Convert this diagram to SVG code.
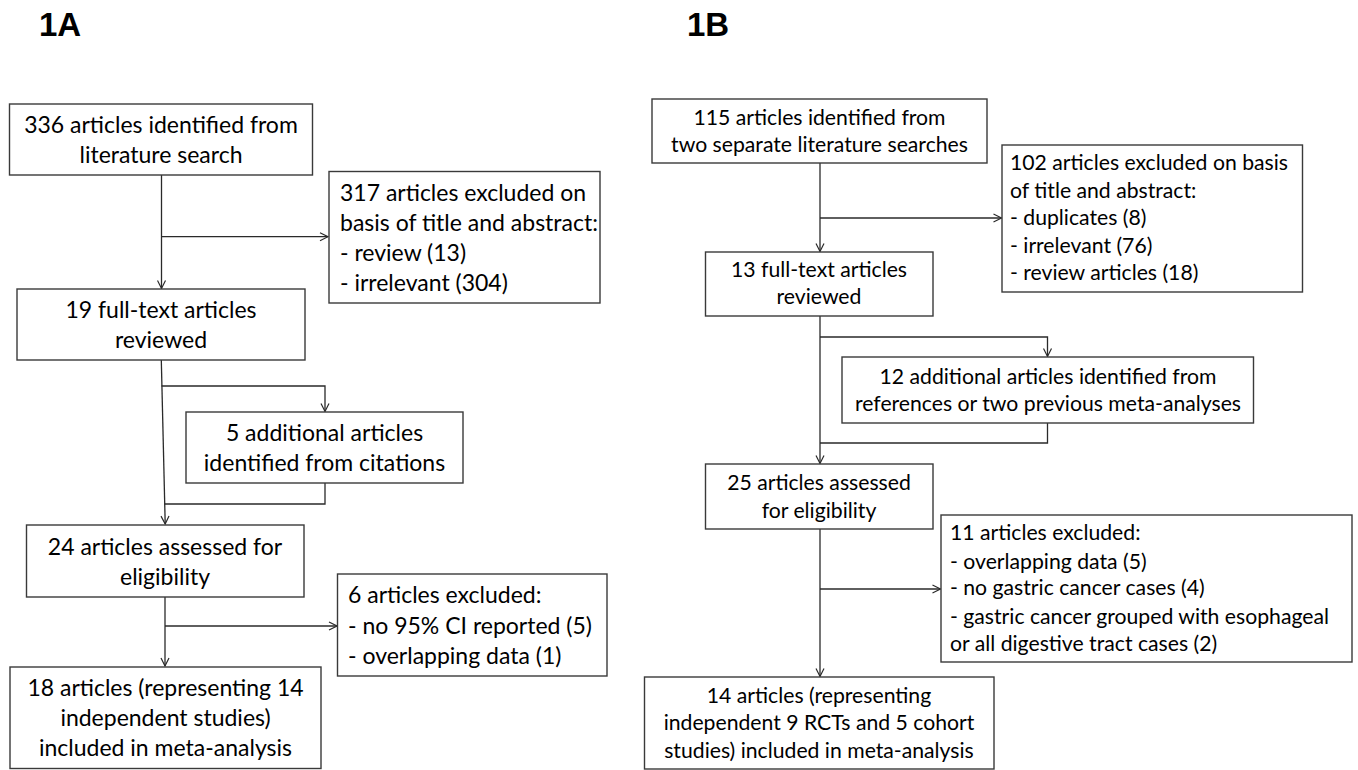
<svg xmlns="http://www.w3.org/2000/svg" width="1358" height="770" viewBox="0 0 1358 770">
<style>
.box{fill:#fff;stroke:#3a3a3a;stroke-width:1.4}
.ln{fill:none;stroke:#2a2a2a;stroke-width:1.3}
text{font-family:Lato,"Liberation Sans",sans-serif;fill:#000}
.l{font-size:23px}
.r{font-size:21.2px}
.c{text-anchor:middle}
.t{font-family:"Liberation Sans",Arial,sans-serif;font-weight:bold;font-size:33px}
</style>
<defs>
<marker id="a" markerWidth="10" markerHeight="10" refX="9" refY="5" orient="auto" markerUnits="userSpaceOnUse">
<path d="M1,1 L9,5 L1,9" fill="none" stroke="#2a2a2a" stroke-width="1.2"/>
</marker>
</defs>
<rect width="1358" height="770" fill="#fff"/>
<text class="t" x="39" y="36">1A</text>
<text class="t" x="687" y="36">1B</text>
<g id="connectors">
<path class="ln" d="M161.5,175 V288.5" marker-end="url(#a)"/>
<path class="ln" d="M161.5,236.7 H328" marker-end="url(#a)"/>
<path class="ln" d="M161.3,360 L165.2,524" marker-end="url(#a)"/>
<path class="ln" d="M161.5,386 H325 V411.5" marker-end="url(#a)"/>
<path class="ln" d="M325,483 V504 H164.5"/>
<path class="ln" d="M165,597 V666" marker-end="url(#a)"/>
<path class="ln" d="M165,626 H337" marker-end="url(#a)"/>
<path class="ln" d="M820,163 V251.5" marker-end="url(#a)"/>
<path class="ln" d="M820,218 H1001.5" marker-end="url(#a)"/>
<path class="ln" d="M820,316 V463.5" marker-end="url(#a)"/>
<path class="ln" d="M820,337 H1047.5 V356.5" marker-end="url(#a)"/>
<path class="ln" d="M1047.5,423 V443 H820"/>
<path class="ln" d="M820,529 V676.5" marker-end="url(#a)"/>
<path class="ln" d="M820,589 H940.5" marker-end="url(#a)"/>
</g>
<g id="a1">
<rect class="box" x="9.5" y="104" width="303" height="71"/>
<text class="l c" x="161" y="133">336 articles identified from</text>
<text class="l c" x="161" y="163">literature search</text>
</g>
<g id="a2">
<rect class="box" x="329" y="171.5" width="271" height="131.5"/>
<text class="l" x="340" y="201">317 articles excluded on</text>
<text class="l" x="340" y="231">basis of title and abstract:</text>
<text class="l" x="340" y="261">- review (13)</text>
<text class="l" x="340" y="291">- irrelevant (304)</text>
</g>
<g id="a3">
<rect class="box" x="17" y="289" width="288" height="71"/>
<text class="l c" x="161" y="318">19 full-text articles</text>
<text class="l c" x="161" y="348">reviewed</text>
</g>
<g id="a4">
<rect class="box" x="186" y="412" width="277" height="71"/>
<text class="l c" x="324.5" y="441">5 additional articles</text>
<text class="l c" x="324.5" y="471">identified from citations</text>
</g>
<g id="a5">
<rect class="box" x="26.5" y="525" width="277.5" height="72"/>
<text class="l c" x="165" y="555">24 articles assessed for</text>
<text class="l c" x="165" y="585">eligibility</text>
</g>
<g id="a6">
<rect class="box" x="337.5" y="574" width="269.5" height="102"/>
<text class="l" x="348" y="603">6 articles excluded:</text>
<text class="l" x="348" y="634">- no 95% CI reported (5)</text>
<text class="l" x="348" y="664">- overlapping data (1)</text>
</g>
<g id="a7">
<rect class="box" x="10" y="667" width="311" height="101.5"/>
<text class="l c" x="165.5" y="696">18 articles (representing 14</text>
<text class="l c" x="165.5" y="726">independent studies)</text>
<text class="l c" x="165.5" y="756">included in meta-analysis</text>
</g>
<g id="b1">
<rect class="box" x="652" y="99" width="335" height="64"/>
<text class="r c" x="819.5" y="125">115 articles identified from</text>
<text class="r c" x="819.5" y="152">two separate literature searches</text>
</g>
<g id="b2">
<rect class="box" x="1002" y="145" width="300.5" height="147"/>
<text class="r" x="1010" y="170">102 articles excluded on basis</text>
<text class="r" x="1010" y="198">of title and abstract:</text>
<text class="r" x="1010" y="225">- duplicates (8)</text>
<text class="r" x="1010" y="253">- irrelevant (76)</text>
<text class="r" x="1010" y="280">- review articles (18)</text>
</g>
<g id="b3">
<rect class="box" x="705.5" y="252" width="227.5" height="64"/>
<text class="r c" x="819" y="277">13 full-text articles</text>
<text class="r c" x="819" y="304">reviewed</text>
</g>
<g id="b4">
<rect class="box" x="842" y="357" width="411.5" height="66"/>
<text class="r c" x="1048" y="384">12 additional articles identified from</text>
<text class="r c" x="1048" y="411">references or two previous meta-analyses</text>
</g>
<g id="b5">
<rect class="box" x="705.5" y="464" width="227.5" height="65"/>
<text class="r c" x="819" y="490">25 articles assessed</text>
<text class="r c" x="819" y="518">for eligibility</text>
</g>
<g id="b6">
<rect class="box" x="941" y="515" width="411" height="147"/>
<text class="r" x="950" y="540">11 articles excluded:</text>
<text class="r" x="950" y="569">- overlapping data (5)</text>
<text class="r" x="950" y="595">- no gastric cancer cases (4)</text>
<text class="r" x="950" y="624">- gastric cancer grouped with esophageal</text>
<text class="r" x="950" y="651">or all digestive tract cases (2)</text>
</g>
<g id="b7">
<rect class="box" x="644.5" y="677" width="349.5" height="92"/>
<text class="r c" x="819" y="703">14 articles (representing</text>
<text class="r c" x="819" y="730">independent 9 RCTs and 5 cohort</text>
<text class="r c" x="819" y="758">studies) included in meta-analysis</text>
</g>
</svg>
